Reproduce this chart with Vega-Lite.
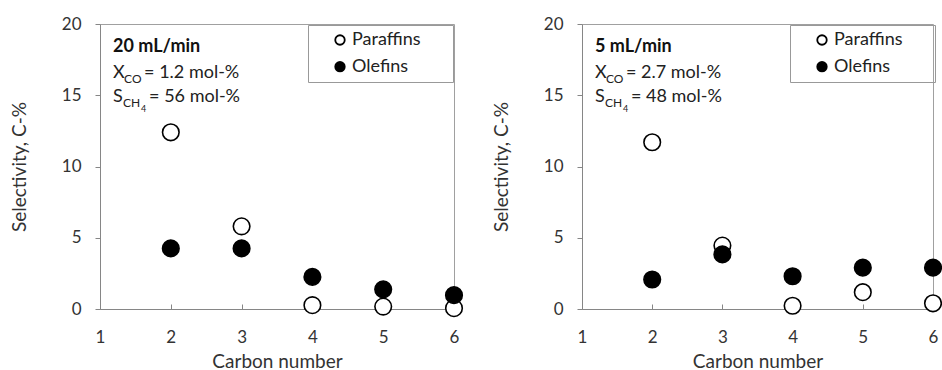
{
  "$schema": "https://vega.github.io/schema/vega-lite/v6.json",
  "padding": {"left": 9, "top": 14, "right": 0, "bottom": 0},
  "spacing": 25,
  "datasets": {
    "points": [
      {"panel": "20 mL/min", "carbon": 2, "type": "Paraffins", "sel": 12.4},
      {"panel": "20 mL/min", "carbon": 3, "type": "Paraffins", "sel": 5.8},
      {"panel": "20 mL/min", "carbon": 4, "type": "Paraffins", "sel": 0.27},
      {"panel": "20 mL/min", "carbon": 5, "type": "Paraffins", "sel": 0.17},
      {"panel": "20 mL/min", "carbon": 6, "type": "Paraffins", "sel": 0.06},
      {"panel": "20 mL/min", "carbon": 2, "type": "Olefins", "sel": 4.25},
      {"panel": "20 mL/min", "carbon": 3, "type": "Olefins", "sel": 4.25},
      {"panel": "20 mL/min", "carbon": 4, "type": "Olefins", "sel": 2.25},
      {"panel": "20 mL/min", "carbon": 5, "type": "Olefins", "sel": 1.38},
      {"panel": "20 mL/min", "carbon": 6, "type": "Olefins", "sel": 0.97},
      {"panel": "5 mL/min", "carbon": 2, "type": "Paraffins", "sel": 11.7},
      {"panel": "5 mL/min", "carbon": 3, "type": "Paraffins", "sel": 4.45},
      {"panel": "5 mL/min", "carbon": 4, "type": "Paraffins", "sel": 0.23},
      {"panel": "5 mL/min", "carbon": 5, "type": "Paraffins", "sel": 1.18},
      {"panel": "5 mL/min", "carbon": 6, "type": "Paraffins", "sel": 0.4},
      {"panel": "5 mL/min", "carbon": 2, "type": "Olefins", "sel": 2.07},
      {"panel": "5 mL/min", "carbon": 3, "type": "Olefins", "sel": 3.83},
      {"panel": "5 mL/min", "carbon": 4, "type": "Olefins", "sel": 2.3},
      {"panel": "5 mL/min", "carbon": 5, "type": "Olefins", "sel": 2.9},
      {"panel": "5 mL/min", "carbon": 6, "type": "Olefins", "sel": 2.9}
    ],
    "notes": [
      {"panel": "20 mL/min", "xTail": "= 1.2 mol-%", "sTail": "= 56 mol-%"},
      {"panel": "5 mL/min", "xTail": "= 2.7 mol-%", "sTail": "= 48 mol-%"}
    ]
  },
  "hconcat": [
    {
      "width": 354, "height": 285,
      "layer": [
        {
          "data": {"name": "points"},
          "transform": [{"filter": "datum.panel == '20 mL/min'"}],
          "mark": {"type": "point", "shape": "circle", "filled": true, "stroke": "black", "strokeWidth": 1.6, "size": 275, "opacity": 1},
          "encoding": {
            "x": {"field": "carbon", "type": "quantitative", "title": "Carbon number", "scale": {"domain": [1, 6], "nice": false},
                  "axis": {"values": [1, 2, 3, 4, 5, 6], "format": "d"}},
            "y": {"field": "sel", "type": "quantitative", "title": "Selectivity, C-%", "scale": {"domain": [0, 20], "nice": false},
                  "axis": {"values": [0, 2.5, 5, 7.5, 10, 12.5, 15, 17.5, 20], "labelExpr": "datum.value % 5 == 0 ? datum.label : ''"}},
            "fill": {"field": "type", "type": "nominal", "scale": {"domain": ["Paraffins", "Olefins"], "range": ["white", "black"]},
                     "legend": {"title": null, "labelExpr": "datum.label + '\u2800\u2800'"}}
          }
        },
        {
          "data": {"name": "notes"},
          "transform": [{"filter": "datum.panel == '20 mL/min'"}],
          "layer": [
            {"mark": {"type": "text", "align": "left", "baseline": "alphabetic", "fontWeight": "bold", "fontSize": 18, "color": "#111"},
             "encoding": {"x": {"datum": 1.185, "type": "quantitative"}, "y": {"datum": 18.04, "type": "quantitative"}, "text": {"field": "panel"}}},
            {"mark": {"type": "text", "align": "left", "baseline": "alphabetic", "fontSize": 18, "color": "#222", "text": "X"},
             "encoding": {"x": {"datum": 1.185, "type": "quantitative"}, "y": {"datum": 16.23, "type": "quantitative"}}},
            {"mark": {"type": "text", "align": "left", "baseline": "alphabetic", "fontSize": 12, "color": "#222", "text": "CO", "dx": 11, "dy": 5},
             "encoding": {"x": {"datum": 1.185, "type": "quantitative"}, "y": {"datum": 16.23, "type": "quantitative"}}},
            {"mark": {"type": "text", "align": "left", "baseline": "alphabetic", "fontSize": 18, "color": "#222", "dx": 31},
             "encoding": {"x": {"datum": 1.185, "type": "quantitative"}, "y": {"datum": 16.23, "type": "quantitative"}, "text": {"field": "xTail"}}},
            {"mark": {"type": "text", "align": "left", "baseline": "alphabetic", "fontSize": 18, "color": "#222", "text": "S"},
             "encoding": {"x": {"datum": 1.185, "type": "quantitative"}, "y": {"datum": 14.55, "type": "quantitative"}}},
            {"mark": {"type": "text", "align": "left", "baseline": "alphabetic", "fontSize": 12, "color": "#222", "text": "CH", "dx": 10, "dy": 5},
             "encoding": {"x": {"datum": 1.185, "type": "quantitative"}, "y": {"datum": 14.55, "type": "quantitative"}}},
            {"mark": {"type": "text", "align": "left", "baseline": "alphabetic", "fontSize": 9, "color": "#222", "text": "4", "dx": 28, "dy": 10},
             "encoding": {"x": {"datum": 1.185, "type": "quantitative"}, "y": {"datum": 14.55, "type": "quantitative"}}},
            {"mark": {"type": "text", "align": "left", "baseline": "alphabetic", "fontSize": 18, "color": "#222", "dx": 36},
             "encoding": {"x": {"datum": 1.185, "type": "quantitative"}, "y": {"datum": 14.55, "type": "quantitative"}, "text": {"field": "sTail"}}}
          ]
        }
      ]
    },
    {
      "width": 351, "height": 285,
      "layer": [
        {
          "data": {"name": "points"},
          "transform": [{"filter": "datum.panel == '5 mL/min'"}],
          "mark": {"type": "point", "shape": "circle", "filled": true, "stroke": "black", "strokeWidth": 1.6, "size": 275, "opacity": 1},
          "encoding": {
            "x": {"field": "carbon", "type": "quantitative", "title": "Carbon number", "scale": {"domain": [1, 6], "nice": false},
                  "axis": {"values": [1, 2, 3, 4, 5, 6], "format": "d"}},
            "y": {"field": "sel", "type": "quantitative", "title": "Selectivity, C-%", "scale": {"domain": [0, 20], "nice": false},
                  "axis": {"values": [0, 2.5, 5, 7.5, 10, 12.5, 15, 17.5, 20], "labelExpr": "datum.value % 5 == 0 ? datum.label : ''"}},
            "fill": {"field": "type", "type": "nominal", "scale": {"domain": ["Paraffins", "Olefins"], "range": ["white", "black"]},
                     "legend": {"title": null, "labelExpr": "datum.label + '\u2800\u2800'"}}
          }
        },
        {
          "data": {"name": "notes"},
          "transform": [{"filter": "datum.panel == '5 mL/min'"}],
          "layer": [
            {"mark": {"type": "text", "align": "left", "baseline": "alphabetic", "fontWeight": "bold", "fontSize": 18, "color": "#111"},
             "encoding": {"x": {"datum": 1.185, "type": "quantitative"}, "y": {"datum": 18.04, "type": "quantitative"}, "text": {"field": "panel"}}},
            {"mark": {"type": "text", "align": "left", "baseline": "alphabetic", "fontSize": 18, "color": "#222", "text": "X"},
             "encoding": {"x": {"datum": 1.185, "type": "quantitative"}, "y": {"datum": 16.23, "type": "quantitative"}}},
            {"mark": {"type": "text", "align": "left", "baseline": "alphabetic", "fontSize": 12, "color": "#222", "text": "CO", "dx": 11, "dy": 5},
             "encoding": {"x": {"datum": 1.185, "type": "quantitative"}, "y": {"datum": 16.23, "type": "quantitative"}}},
            {"mark": {"type": "text", "align": "left", "baseline": "alphabetic", "fontSize": 18, "color": "#222", "dx": 31},
             "encoding": {"x": {"datum": 1.185, "type": "quantitative"}, "y": {"datum": 16.23, "type": "quantitative"}, "text": {"field": "xTail"}}},
            {"mark": {"type": "text", "align": "left", "baseline": "alphabetic", "fontSize": 18, "color": "#222", "text": "S"},
             "encoding": {"x": {"datum": 1.185, "type": "quantitative"}, "y": {"datum": 14.55, "type": "quantitative"}}},
            {"mark": {"type": "text", "align": "left", "baseline": "alphabetic", "fontSize": 12, "color": "#222", "text": "CH", "dx": 10, "dy": 5},
             "encoding": {"x": {"datum": 1.185, "type": "quantitative"}, "y": {"datum": 14.55, "type": "quantitative"}}},
            {"mark": {"type": "text", "align": "left", "baseline": "alphabetic", "fontSize": 9, "color": "#222", "text": "4", "dx": 28, "dy": 10},
             "encoding": {"x": {"datum": 1.185, "type": "quantitative"}, "y": {"datum": 14.55, "type": "quantitative"}}},
            {"mark": {"type": "text", "align": "left", "baseline": "alphabetic", "fontSize": 18, "color": "#222", "dx": 36},
             "encoding": {"x": {"datum": 1.185, "type": "quantitative"}, "y": {"datum": 14.55, "type": "quantitative"}, "text": {"field": "sTail"}}}
          ]
        }
      ]
    }
  ],
  "resolve": {"legend": {"fill": "independent"}, "scale": {"fill": "independent"}},
  "config": {
    "font": "Lato",
    "view": {"stroke": "#a0a0a0", "strokeWidth": 1},
    "axis": {
      "grid": false,
      "domainColor": "#868686",
      "tickColor": "#868686",
      "labelColor": "#333",
      "titleColor": "#333",
      "labelFont": "Lato",
      "titleFont": "Lato",
      "labelFontSize": 17,
      "titleFontSize": 19,
      "titleFontWeight": "normal"
    },
    "axisX": {"tickSize": -5, "labelPadding": 25, "titlePadding": 7, "labelFlush": false},
    "axisY": {"tickSize": 5, "labelPadding": 14, "titlePadding": 32},
    "legend": {
      "orient": "none",
      "legendX": 208,
      "legendY": 1,
      "strokeColor": "#999",
      "padding": 6,
      "symbolType": "circle",
      "symbolSize": 90,
      "symbolStrokeColor": "black",
      "symbolStrokeWidth": 1.8,
      "symbolOffset": 17,
      "labelOffset": 3,
      "labelFont": "Lato",
      "labelFontSize": 18,
      "labelColor": "#222",
      "rowPadding": 8.7
    }
  }
}
